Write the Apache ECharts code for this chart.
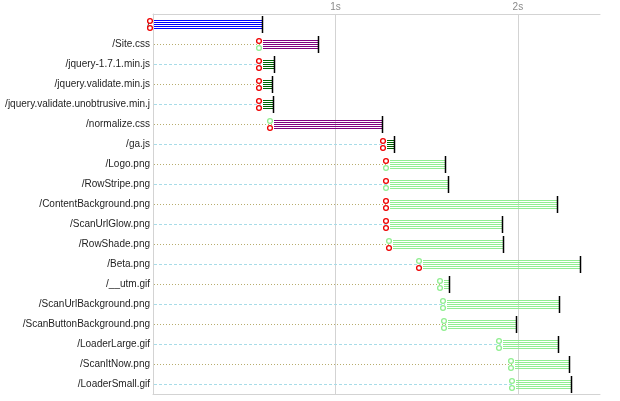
<!DOCTYPE html>
<html>
<head>
<meta charset="utf-8">
<script src="https://cdn.jsdelivr.net/npm/echarts@6/dist/echarts.min.js"></script>
<style>html,body{margin:0;padding:0;background:#fff;}#c{width:620px;height:401px;}</style>
</head>
<body>
<div id="c"></div>
<script>
const categories = ['/', '/Site.css', '/jquery-1.7.1.min.js', '/jquery.validate.min.js', '/jquery.validate.unobtrusive.min.j', '/normalize.css', '/ga.js', '/Logo.png', '/RowStripe.png', '/ContentBackground.png', '/ScanUrlGlow.png', '/RowShade.png', '/Beta.png', '/__utm.gif', '/ScanUrlBackground.png', '/ScanButtonBackground.png', '/LoaderLarge.gif', '/ScanItNow.png', '/LoaderSmall.gif'];
const startSec = [0.004, 0.603, 0.603, 0.603, 0.603, 0.663, 1.284, 1.301, 1.301, 1.301, 1.301, 1.317, 1.482, 1.597, 1.612, 1.619, 1.916, 1.982, 1.987];
const endSec = [0.596, 0.907, 0.665, 0.654, 0.659, 1.253, 1.319, 1.599, 1.615, 2.214, 1.912, 1.919, 2.341, 1.621, 2.225, 1.989, 2.220, 2.280, 2.291];
const kinds = ['html', 'css', 'js', 'js', 'js', 'css', 'js', 'img', 'img', 'img', 'img', 'img', 'img', 'img', 'img', 'img', 'img', 'img', 'img'];
const topFlag = ['r', 'r', 'r', 'r', 'r', 'g', 'r', 'r', 'r', 'r', 'r', 'g', 'g', 'g', 'g', 'g', 'g', 'g', 'g'];
const bottomFlag = ['r', 'g', 'r', 'r', 'r', 'r', 'r', 'g', 'g', 'r', 'r', 'r', 'r', 'g', 'g', 'g', 'g', 'g', 'g'];
const axisTicks = [1, 2];

const kindColor = { html: '#0000ff', css: '#800080', js: '#006400', img: '#90ee90' };
const flagColor = { r: '#ee0000', g: '#90ee90' };

const data = categories.map((c, i) => [i, startSec[i], endSec[i]]);

function renderItem(params, api) {
  const i = api.value(0);
  const s = api.coord([api.value(1), i]);
  const e = api.coord([api.value(2), i]);
  const cs = params.coordSys;
  const yc = Math.floor(s[1]);
  const xs = Math.round(s[0]);
  const xe = Math.round(e[0]);
  const children = [];
  const leaderEnd = xs - 2;
  if (leaderEnd > cs.x + 1) {
    const dotted = (i % 2 === 1);
    children.push({
      type: 'line',
      shape: { x1: cs.x + 1, y1: yc + 0.5, x2: leaderEnd, y2: yc + 0.5 },
      style: { stroke: dotted ? '#b8ad6e' : '#a8dce8', lineWidth: 1, lineDash: dotted ? [1, 2] : [3, 2] }
    });
  }
  for (let k = -4; k <= 4; k += 2) {
    children.push({
      type: 'line',
      shape: { x1: xs, y1: yc + k + 0.5, x2: xe, y2: yc + k + 0.5 },
      style: { stroke: kindColor[kinds[i]], lineWidth: 1 }
    });
  }
  children.push({
    type: 'line',
    shape: { x1: xe + 0.5, y1: yc - 8, x2: xe + 0.5, y2: yc + 9 },
    style: { stroke: '#000', lineWidth: 1.5 }
  });
  children.push({
    type: 'circle',
    shape: { cx: xs - 4, cy: yc - 3, r: 2.4 },
    style: { fill: '#fff', stroke: flagColor[topFlag[i]], lineWidth: 1.3 }
  });
  children.push({
    type: 'circle',
    shape: { cx: xs - 4, cy: yc + 4, r: 2.4 },
    style: { fill: '#fff', stroke: flagColor[bottomFlag[i]], lineWidth: 1.3 }
  });
  return { type: 'group', children: children };
}

const chart = echarts.init(document.getElementById('c'), null, { renderer: 'canvas' });
chart.setOption({
  animation: false,
  backgroundColor: '#fff',
  grid: { left: 153, right: 20, top: 14, bottom: 7, containLabel: false, outerBoundsMode: 'none' },
  xAxis: [{
    type: 'value', position: 'top', min: 0, max: 2.45, interval: 1,
    axisLine: { show: true, lineStyle: { color: '#d3d3d3', width: 1 } },
    axisTick: { show: false },
    axisLabel: {
      show: true, margin: 2, fontSize: 10, color: '#8a8a8a', fontFamily: '"Liberation Sans", sans-serif',
      showMinLabel: false, showMaxLabel: false,
      formatter: v => axisTicks.indexOf(v) >= 0 ? v + 's' : ''
    },
    splitLine: { show: true, showMinLine: false, showMaxLine: false, lineStyle: { color: '#d3d3d3', width: 1 } }
  }, {
    type: 'value', position: 'bottom', min: 0, max: 2.45,
    axisLine: { show: true, lineStyle: { color: '#d3d3d3', width: 1 } },
    axisTick: { show: false }, axisLabel: { show: false }, splitLine: { show: false }
  }],
  yAxis: {
    type: 'category', data: categories, inverse: true,
    axisLine: { show: true, lineStyle: { color: '#d3d3d3', width: 1 } },
    axisTick: { show: false },
    splitLine: { show: false },
    axisLabel: { margin: 3, fontSize: 10, color: '#1e1e1e', fontFamily: '"Liberation Sans", sans-serif' }
  },
  series: [{
    type: 'custom', renderItem: renderItem, data: data, xAxisIndex: 0,
    encode: { x: [1, 2], y: 0 }, clip: false
  }]
});
</script>
</body>
</html>
